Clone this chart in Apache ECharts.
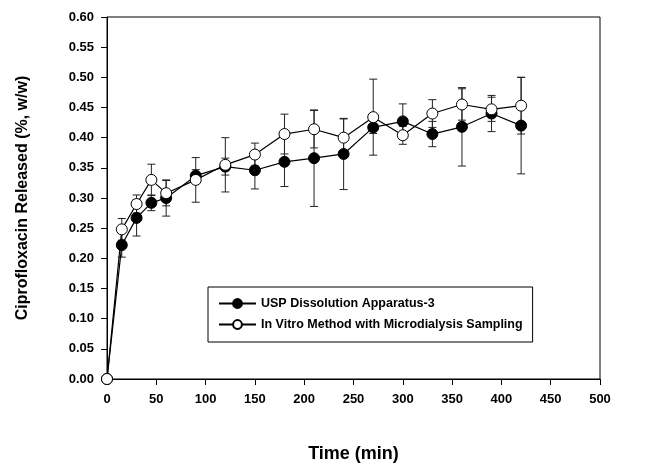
<!DOCTYPE html>
<html>
<head>
<meta charset="utf-8">
<script src="https://cdn.jsdelivr.net/npm/echarts@6/dist/echarts.min.js"></script>
<style>
html,body{margin:0;padding:0;background:#fff;}
#chart{width:647px;height:468px;}
</style>
</head>
<body>
<div id="chart"></div>
<script>
// Data
const timeMin = [0, 15, 30, 45, 60, 90, 120, 150, 180, 210, 240, 270, 300, 330, 360, 390, 420];
const uspMean = [0, 0.222, 0.267, 0.292, 0.300, 0.337, 0.352, 0.346, 0.360, 0.366, 0.373, 0.417, 0.427, 0.406, 0.418, 0.440, 0.420];
const uspSD   = [0, 0.020, 0.030, 0.013, 0.030, 0.010, 0.014, 0.031, 0.041, 0.080, 0.059, 0.010, 0.029, 0.021, 0.065, 0.030, 0.080];
const mdMean  = [0, 0.248, 0.290, 0.330, 0.308, 0.330, 0.355, 0.372, 0.406, 0.414, 0.400, 0.434, 0.404, 0.440, 0.455, 0.447, 0.453];
const mdSD    = [0, 0.018, 0.015, 0.026, 0.021, 0.037, 0.045, 0.019, 0.033, 0.031, 0.031, 0.063, 0.015, 0.023, 0.026, 0.020, 0.047];
const seriesNames = ['USP Dissolution Apparatus-3', 'In Vitro Method with Microdialysis Sampling'];
const xTicks = { min: 0, max: 500, interval: 50 };
const yTicks = { min: 0, max: 0.6, interval: 0.05 };

const FONT = '"Liberation Sans", Arial, sans-serif';

function pairs(xs, ys) { return xs.map((x, i) => [x, ys[i]]); }
function triples(xs, ys, es) { return xs.map((x, i) => [x, ys[i], es[i]]).filter(d => d[2] > 0); }

function errRender(params, api) {
  const x = api.value(0), m = api.value(1), s = api.value(2);
  const top = api.coord([x, m + s]);
  const bot = api.coord([x, m - s]);
  const hw = 4;
  const st = { stroke: '#222', lineWidth: 1 };
  return {
    type: 'group',
    children: [
      { type: 'line', shape: { x1: top[0], y1: top[1], x2: bot[0], y2: bot[1] }, style: st },
      { type: 'line', shape: { x1: top[0] - hw, y1: top[1], x2: top[0] + hw, y2: top[1] }, style: st },
      { type: 'line', shape: { x1: bot[0] - hw, y1: bot[1], x2: bot[0] + hw, y2: bot[1] }, style: st }
    ]
  };
}

const chart = echarts.init(document.getElementById('chart'), null, { renderer: 'canvas' });
chart.setOption({
  animation: false,
  backgroundColor: '#fff',
  textStyle: { fontFamily: FONT },
  grid: { left: 107, right: 47, top: 17, bottom: 84, show: true, borderColor: '#000', borderWidth: 1, backgroundColor: 'transparent' },
  legend: {
    left: 208, top: 287,
    orient: 'vertical',
    backgroundColor: '#fff',
    borderColor: '#000', borderWidth: 1,
    padding: [10, 10, 11, 10],
    itemWidth: 37, itemHeight: 11, itemGap: 8,
    textStyle: { fontFamily: FONT, fontWeight: 'bold', fontSize: 12.5, color: '#000' },
    data: seriesNames
  },
  xAxis: {
    type: 'value', min: xTicks.min, max: xTicks.max, interval: xTicks.interval,
    name: 'Time (min)', nameLocation: 'middle', nameGap: 66,
    nameTextStyle: { fontFamily: FONT, fontWeight: 'bold', fontSize: 18, color: '#000' },
    axisLine: { show: true, lineStyle: { color: '#000', width: 1 } },
    axisTick: { show: true, inside: false, length: 6, lineStyle: { color: '#000' } },
    axisLabel: { margin: 14, fontFamily: FONT, fontWeight: 'bold', fontSize: 13, color: '#000' },
    splitLine: { show: false }
  },
  yAxis: {
    type: 'value', min: yTicks.min, max: yTicks.max, interval: yTicks.interval,
    name: 'Ciprofloxacin Released (%, w/w)', nameLocation: 'middle', nameGap: 76, nameRotate: 90,
    nameTextStyle: { fontFamily: FONT, fontWeight: 'bold', fontSize: 16, color: '#000' },
    axisLine: { show: true, lineStyle: { color: '#000', width: 1 } },
    axisTick: { show: true, inside: false, length: 6, lineStyle: { color: '#000' } },
    axisLabel: { margin: 13, fontFamily: FONT, fontWeight: 'bold', fontSize: 13, color: '#000', formatter: v => v.toFixed(2) },
    splitLine: { show: false }
  },
  series: [
    { type: 'custom', name: 'usp-err', renderItem: errRender, data: triples(timeMin, uspMean, uspSD), encode: { x: 0, y: 1 }, z: 1, silent: true },
    { type: 'custom', name: 'md-err', renderItem: errRender, data: triples(timeMin, mdMean, mdSD), encode: { x: 0, y: 1 }, z: 1, silent: true },
    {
      type: 'line', name: seriesNames[0], data: pairs(timeMin, uspMean),
      symbol: 'circle', symbolSize: 11, showSymbol: true,
      lineStyle: { color: '#000', width: 1.2 },
      itemStyle: { color: '#000', borderColor: '#000', borderWidth: 1 },
      z: 3
    },
    {
      type: 'line', name: seriesNames[1], data: pairs(timeMin, mdMean),
      symbol: 'circle', symbolSize: 11, showSymbol: true,
      lineStyle: { color: '#000', width: 1.2 },
      itemStyle: { color: '#fff', borderColor: '#000', borderWidth: 1 },
      z: 4
    }
  ]
});
</script>
</body>
</html>
